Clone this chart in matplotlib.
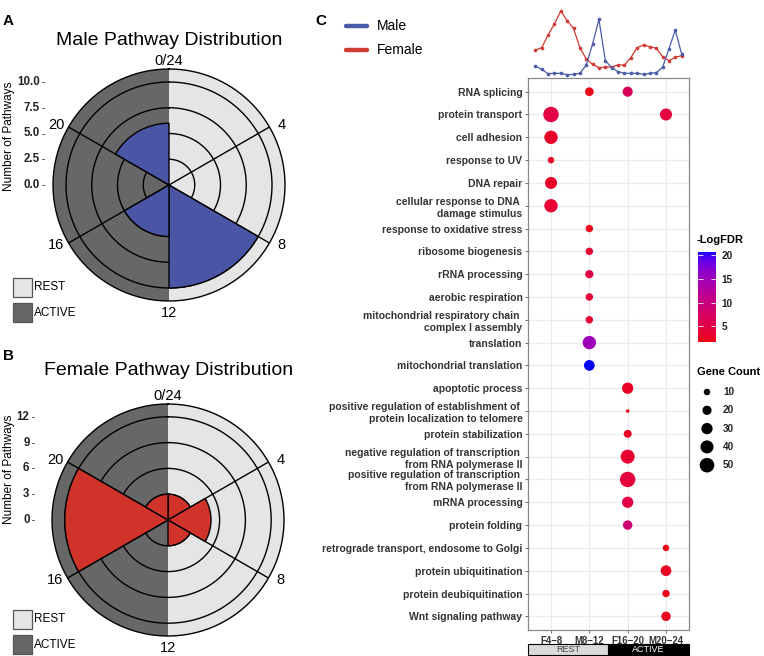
import numpy as np
import matplotlib
matplotlib.use('Agg')
import matplotlib.pyplot as plt
from matplotlib.colors import ListedColormap, Normalize
from matplotlib.cm import ScalarMappable
from matplotlib.patches import Rectangle

plt.rcParams['font.family'] = ['Liberation Sans', 'DejaVu Sans']

# ---- data -------------------------------------------------------------
hour_labels = ['0/24', '4', '8', '12', '16', '20']
male_counts = [0, 0, 10, 5, 0, 6]
female_counts = [3, 5, 3, 0, 12, 3]
male_ticks = [0, 2.5, 5, 7.5, 10]
female_ticks = [0, 3, 6, 9, 12]

time_index = list(range(24))
male_trend = [3.7, 2.7, 1.4, 1.5, 1.5, 1.1, 1.2, 1.5, 4.0, 10.3, 17.7, 5.3,
              3.2, 2.0, 1.5, 1.5, 1.5, 1.2, 1.5, 1.7, 3.3, 8.9, 14.5, 7.2]
female_trend = [8.5, 9.2, 13.0, 16.3, 20.2, 17.3, 15.0, 9.2, 5.8, 4.2, 3.2, 3.4,
                3.4, 4.0, 4.0, 6.2, 9.2, 10.0, 9.5, 9.0, 6.5, 5.3, 6.3, 6.8]

groups = ['F4\u22128', 'M8\u221212', 'F16\u221220', 'M20\u221224']
pathways = [
    'RNA splicing', 'protein transport', 'cell adhesion', 'response to UV',
    'DNA repair', 'cellular response to DNA \ndamage stimulus',
    'response to oxidative stress', 'ribosome biogenesis', 'rRNA processing',
    'aerobic respiration', 'mitochondrial respiratory chain \ncomplex I assembly',
    'translation', 'mitochondrial translation', 'apoptotic process',
    'positive regulation of establishment of \nprotein localization to telomere',
    'protein stabilization',
    'negative regulation of transcription \nfrom RNA polymerase II',
    'positive regulation of transcription \nfrom RNA polymerase II',
    'mRNA processing', 'protein folding',
    'retrograde transport, endosome to Golgi', 'protein ubiquitination',
    'protein deubiquitination', 'Wnt signaling pathway',
]
# one entry per dot: pathway row, group column, gene count, -log FDR
dot_pathway = [0, 0, 1, 1, 2, 3, 4, 5, 6, 7, 8, 9, 10, 11, 12,
               13, 14, 15, 16, 17, 18, 19, 20, 21, 22, 23]
dot_group = [1, 2, 0, 3, 0, 0, 0, 0, 1, 1, 1, 1, 1, 1, 1,
             2, 2, 2, 2, 2, 2, 2, 3, 3, 3, 3]
dot_count = [18, 24, 56, 34, 42, 10, 34, 42, 13, 13, 16, 13, 13, 42, 27,
             30, 3, 15, 46, 56, 30, 21, 10, 27, 13, 21]
dot_logfdr = [2.0, 7.0, 5.0, 4.5, 3.0, 3.0, 3.0, 3.5, 2.0, 4.0, 5.0, 4.0, 4.0, 15.0, 20.7,
              2.5, 2.0, 3.0, 3.5, 4.5, 5.0, 9.0, 2.0, 2.5, 2.0, 2.5]
fdr_ticks = [5, 10, 15, 20]
count_legend = [10, 20, 30, 40, 50]

LIGHT = '#E5E5E5'
DARK = '#676767'
BLUE = '#4A55A5'
RED = '#D0332A'
LINE_BLUE = '#4A5BA8'
LINE_RED = '#CF3A33'

W, H = 764, 656
fig = plt.figure(figsize=(W / 100, H / 100), dpi=100)


def rect_px(x0, y0, x1, y1):
    return [x0 / W, 1 - y1 / H, (x1 - x0) / W, (y1 - y0) / H]


def red_blue_lab(low, high, n=256):
    # gradient interpolated in CIELAB, like ggplot's scale_colour_gradient
    M = np.array([[0.4124, 0.3576, 0.1805],
                  [0.2126, 0.7152, 0.0722],
                  [0.0193, 0.1192, 0.9505]])
    white = np.array([0.95047, 1.0, 1.08883])
    d = 6 / 29

    def to_lab(rgb):
        c = np.asarray(rgb, float)
        lin = np.where(c <= 0.04045, c / 12.92, ((c + 0.055) / 1.055) ** 2.4)
        xyz = M @ lin / white
        f = np.where(xyz > d ** 3, np.cbrt(xyz), xyz / (3 * d * d) + 4 / 29)
        return np.array([116 * f[1] - 16, 500 * (f[0] - f[1]), 200 * (f[1] - f[2])])

    def to_rgb(lab):
        fy = (lab[0] + 16) / 116
        f = np.array([fy + lab[1] / 500, fy, fy - lab[2] / 200])
        xyz = np.where(f > d, f ** 3, 3 * d * d * (f - 4 / 29)) * white
        lin = np.clip(np.linalg.solve(M, xyz), 0, 1)
        return np.where(lin <= 0.0031308, 12.92 * lin, 1.055 * lin ** (1 / 2.4) - 0.055)

    a, b = to_lab(low), to_lab(high)
    cols = [np.clip(to_rgb(a + (b - a) * t), 0, 1) for t in np.linspace(0, 1, n)]
    return ListedColormap(cols)


def polar_panel(cx, cy, radius, scale):
    ax = fig.add_axes(rect_px(cx - radius, cy - radius, cx + radius, cy + radius),
                      projection='polar')
    rmax = radius / scale
    ax.set_theta_zero_location('N')
    ax.set_theta_direction(-1)
    ax.set_ylim(0, rmax)
    ax.set_axis_off()
    ax.bar([0], [rmax], width=np.pi, align='edge', color=LIGHT, lw=0, zorder=0)
    ax.bar([np.pi], [rmax], width=np.pi, align='edge', color=DARK, lw=0, zorder=0)
    return ax, rmax


def finish_polar(ax, rmax, ticks, counts, color, fmt):
    th = np.linspace(0, 2 * np.pi, 400)
    for t in ticks[1:]:
        ax.plot(th, np.full_like(th, t), color='black', lw=1.0, zorder=1)
    starts = np.deg2rad(np.arange(6) * 60)
    for s in starts[[1, 2, 4, 5]]:
        ax.plot([s, s], [0, rmax], color='black', lw=1.0, zorder=1)
    ax.bar(starts, counts, width=np.pi / 3, align='edge', color=color,
           edgecolor='black', lw=1.0, zorder=2)
    ax.plot(th, np.full_like(th, rmax), color='black', lw=1.0, clip_on=False, zorder=3)
    label_theta = np.deg2rad([0, 62, 118, 180, 242, 298])
    label_r = [1.07, 1.1, 1.1, 1.1, 1.1, 1.1]
    for s, fr, lab in zip(label_theta, label_r, hour_labels):
        ax.text(s, rmax * fr, lab, ha='center', va='center', fontsize=10.5,
                clip_on=False)
    labels = []
    for t in ticks:
        _, y = ax.transData.transform((0, t))
        labels.append((H - y, fmt(t)))
    return labels


# ---- panel A / B ------------------------------------------------------
ax_m, rmax_m = polar_panel(169, 185, 116, 10.3)
male_ylabels = finish_polar(ax_m, rmax_m, male_ticks, male_counts, BLUE,
                            lambda t: f'{t:.1f}')
ax_f, rmax_f = polar_panel(168, 520, 116, 8.6)
female_ylabels = finish_polar(ax_f, rmax_f, female_ticks, female_counts, RED,
                              lambda t: f'{t:g}')

# ---- panel C: top trend lines ----------------------------------------
ax_line = fig.add_axes(rect_px(528, 5, 689, 78))
ax_line.plot(time_index, female_trend, color=LINE_RED, lw=0.9, marker='o', ms=2.6, mew=0)
ax_line.plot(time_index, male_trend, color=LINE_BLUE, lw=0.9, marker='o', ms=2.6, mew=0)
ax_line.set_xlim(-1.15, 24.15)
ax_line.set_ylim(0.1, 22)
ax_line.set_axis_off()

# ---- panel C: dot plot -----------------------------------------------
cmap = red_blue_lab([0.93, 0.04, 0.08], [0.0, 0.0, 1.0])
norm = Normalize(1.7, 20.7)
size_k = 2.2

ax = fig.add_axes(rect_px(528, 78, 689, 630))
ax.set_axisbelow(True)
ax.grid(True, color='#EBEBEB', lw=0.8)
ax.scatter(dot_group, dot_pathway, s=np.array(dot_count) * size_k, c=dot_logfdr,
           cmap=cmap, norm=norm, linewidths=0, zorder=3)
ax.set_xlim(-0.6, len(groups) - 0.4)
ax.set_ylim(len(pathways) - 0.4, -0.6)
ax.set_xticks(range(len(groups)))
ax.set_xticklabels(groups, fontsize=6.9, fontweight='bold', color='#333333')
ax.set_yticks(range(len(pathways)))
ax.set_yticklabels(pathways, fontsize=7.5, fontweight='bold', color='#333333')
for lab in ax.get_yticklabels():
    lab.set_linespacing(1.25)
ax.tick_params(axis='both', length=2.5, width=0.6, color='#555555', pad=1.5)
for sp in ax.spines.values():
    sp.set_color('#888888')
    sp.set_linewidth(0.9)

# colorbar
cax = fig.add_axes(rect_px(698, 252, 716, 342))
cb = fig.colorbar(ScalarMappable(norm=norm, cmap=cmap), cax=cax, ticks=fdr_ticks)
cb.outline.set_visible(False)
cax.tick_params(left=True, right=True, labelleft=False, labelright=True,
                direction='in', color='white', length=3.5, width=0.6,
                labelsize=7.2, pad=4)
for lab in cax.get_yticklabels():
    lab.set_fontweight('bold')
    lab.set_color('#222222')

# ---- overlay for texts and legends ------------------------------------
ov = fig.add_axes([0, 0, 1, 1])
ov.set_xlim(0, W)
ov.set_ylim(H, 0)
ov.set_axis_off()

ov.text(8.5, 21, 'A', fontsize=11, fontweight='bold', ha='center', va='center')
ov.text(8.5, 356, 'B', fontsize=11, fontweight='bold', ha='center', va='center')
ov.text(320.5, 21, 'C', fontsize=11, fontweight='bold', ha='center', va='center')

ov.text(169, 45, 'Male Pathway Distribution', fontsize=14, ha='center', va='baseline')
ov.text(169, 375, 'Female Pathway Distribution', fontsize=14, ha='center', va='baseline')

for labels, xr in ((male_ylabels, 39.5), (female_ylabels, 29.5)):
    for y, txt in labels:
        ov.text(xr, y, txt, fontsize=8.3, fontweight='bold', ha='right', va='center',
                color='#222222')
        ov.plot([xr + 2, xr + 4.5], [y, y], color='#444444', lw=0.6)
ov.text(9, 136, 'Number of Pathways', rotation=90, fontsize=8.5, ha='center', va='center')
ov.text(9, 469, 'Number of Pathways', rotation=90, fontsize=8.5, ha='center', va='center')

for y0 in (278, 610):
    ov.add_patch(Rectangle((13, y0), 19, 19, facecolor=LIGHT, edgecolor='#555555', lw=0.9))
    ov.add_patch(Rectangle((13, y0 + 25), 19, 19, facecolor=DARK, edgecolor='#555555', lw=0.9))
    ov.text(34, y0 + 9.5, 'REST', fontsize=8.5, ha='left', va='center')
    ov.text(34, y0 + 34.5, 'ACTIVE', fontsize=8.5, ha='left', va='center')

# Male / Female legend
ov.plot([346, 367], [26, 26], color=LINE_BLUE, lw=3.2, solid_capstyle='round')
ov.plot([346, 367], [50, 50], color=LINE_RED, lw=3.2, solid_capstyle='round')
ov.text(377, 26, 'Male', fontsize=10, ha='left', va='center')
ov.text(377, 50, 'Female', fontsize=10, ha='left', va='center')

# REST / ACTIVE strip under dot plot
ov.add_patch(Rectangle((528, 644), 80, 11, facecolor='#DADADA', edgecolor='black', lw=0.8))
ov.add_patch(Rectangle((608, 644), 81, 11, facecolor='black', edgecolor='black', lw=0.8))
ov.text(568, 649.5, 'REST', fontsize=6.5, ha='center', va='center', color='#444444')
ov.text(648.5, 649.5, 'ACTIVE', fontsize=6.5, ha='center', va='center', color='white')

# legend titles
ov.text(697, 240, '-LogFDR', fontsize=8, fontweight='bold', ha='left', va='center')
ov.text(697, 372, 'Gene Count', fontsize=8, fontweight='bold', ha='left', va='center')
leg_y = [392 + 18.3 * i for i in range(len(count_legend))]
ov.scatter([707] * len(count_legend), leg_y, s=np.array(count_legend) * size_k,
           color='black', linewidths=0)
for y, c in zip(leg_y, count_legend):
    ov.text(723, y, str(c), fontsize=7.2, fontweight='bold', ha='left', va='center',
            color='#222222')

fig.savefig('out.png', dpi=100)
